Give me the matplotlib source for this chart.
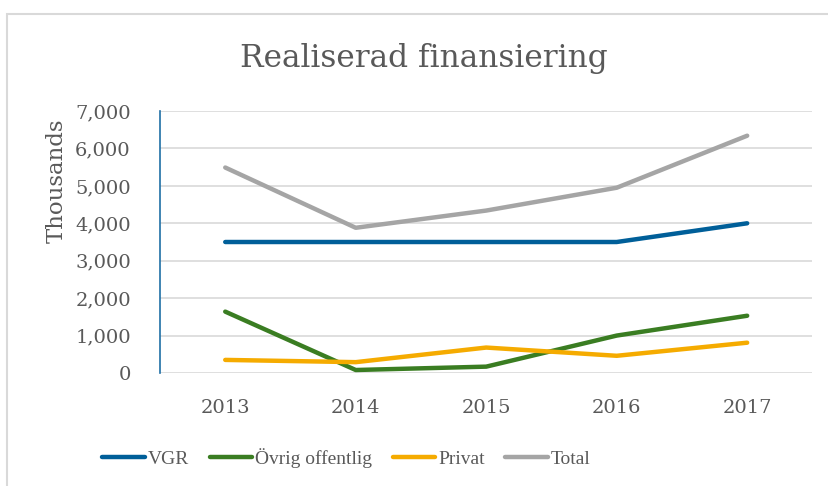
import matplotlib.pyplot as plt
from matplotlib.patches import Rectangle

years = ["2013", "2014", "2015", "2016", "2017"]
vgr = [3500, 3500, 3500, 3500, 4000]
ovrig = [1640, 80, 170, 1000, 1530]
privat = [350, 290, 680, 460, 810]
total = [5490, 3880, 4340, 4950, 6340]

series = [
    ("VGR", vgr, "#005F99"),
    ("Övrig offentlig", ovrig, "#3A7D22"),
    ("Privat", privat, "#F5AB00"),
    ("Total", total, "#A5A5A5"),
]

text_color = "#595959"
plt.rcParams["font.family"] = ["DejaVu Serif"]

fig = plt.figure(figsize=(8.29, 4.86), dpi=100)
ax = fig.add_axes([0.193, 0.2325, 0.787, 0.5391])

# chart border
fig.patches.append(Rectangle((7 / 829, -0.1), 1.2, 1 - 14 / 486 + 0.1,
                             transform=fig.transFigure, fill=False,
                             edgecolor="#D9D9D9", linewidth=1.5))

x = range(len(years))
for name, vals, color in series:
    ax.plot(x, vals, color=color, linewidth=3.2, label=name,
            solid_capstyle="round", solid_joinstyle="round")

ax.set_xlim(-0.5, 4.5)
ax.set_ylim(0, 7000)
ax.set_yticks(range(0, 7001, 1000))
ax.set_yticklabels([f"{v:,}" for v in range(0, 7001, 1000)])
ax.set_xticks(list(x))
ax.set_xticklabels(years)
ax.tick_params(axis="both", length=0, labelsize=14, colors=text_color)
ax.tick_params(axis="x", pad=19)
ax.tick_params(axis="y", pad=21)

ax.grid(axis="y", color="#D9D9D9", linewidth=1.2)
ax.set_axisbelow(True)
for side in ["top", "right", "bottom"]:
    ax.spines[side].set_visible(False)
ax.spines["left"].set_color("#1F6FA6")
ax.spines["left"].set_linewidth(1.2)

ax.set_ylabel("Thousands", fontsize=16.5, color=text_color)
ax.yaxis.set_label_coords(-0.141, 0.733)
fig.text(0.511, 0.88, "Realiserad finansiering", ha="center", va="center",
         fontsize=22.5, color=text_color)

leg = fig.legend(loc="center", bbox_to_anchor=(0.418, 0.058), ncol=4,
                 frameon=False, prop={"family": "Liberation Serif", "size": 14},
                 handlelength=2.2, handletextpad=0.15, columnspacing=1.05)
for t in leg.get_texts():
    t.set_color(text_color)

fig.savefig("out.png", dpi=100)
